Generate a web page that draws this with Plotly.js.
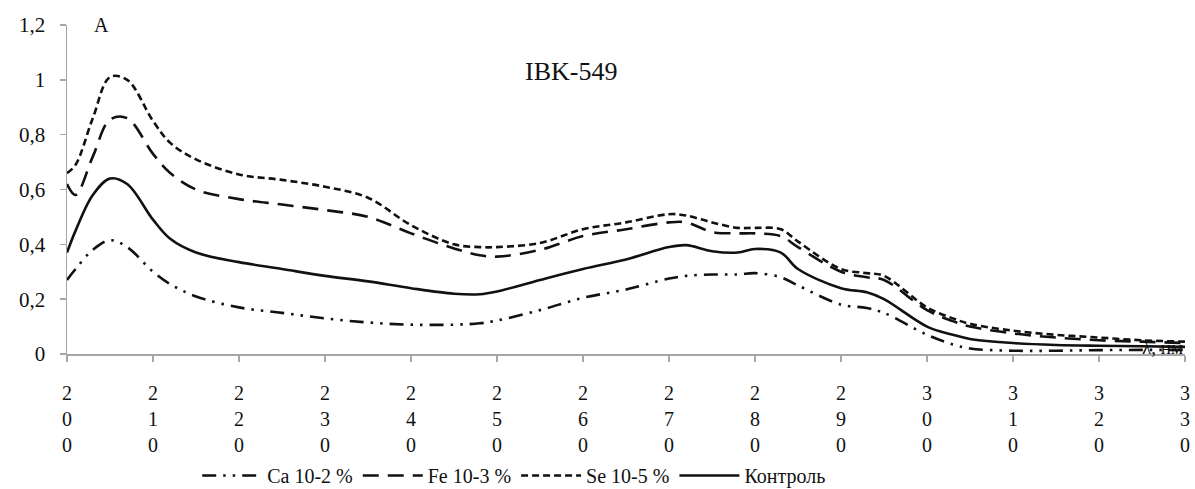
<!DOCTYPE html>
<html><head><meta charset="utf-8">
<script src="https://cdn.plot.ly/plotly-3.0.1.min.js"></script>
<style>body{margin:0;background:#fff}#chart{width:1195px;height:489px}</style>
</head><body><div id="chart"></div>
<script>
const wavelength = [200,201,203,205,207,210,212,215,220,225,230,235,240,245,248,250,255,260,265,270,272,275,278,280,283,285,290,293,295,300,303,305,310,315,320,325,330];
const ca  = [0.27,0.31,0.38,0.415,0.39,0.30,0.255,0.21,0.17,0.15,0.13,0.115,0.107,0.107,0.112,0.122,0.16,0.205,0.235,0.275,0.285,0.29,0.29,0.295,0.28,0.25,0.18,0.168,0.15,0.07,0.035,0.02,0.012,0.012,0.014,0.015,0.015];
const fe  = [0.62,0.58,0.72,0.855,0.86,0.73,0.66,0.60,0.565,0.545,0.525,0.50,0.44,0.385,0.36,0.355,0.38,0.43,0.455,0.48,0.48,0.445,0.44,0.44,0.43,0.39,0.30,0.28,0.27,0.16,0.12,0.10,0.075,0.06,0.05,0.045,0.04];
const se  = [0.66,0.69,0.86,1.01,1.0,0.85,0.77,0.71,0.655,0.635,0.61,0.57,0.47,0.40,0.39,0.39,0.405,0.455,0.48,0.51,0.505,0.48,0.46,0.46,0.455,0.41,0.31,0.295,0.285,0.17,0.13,0.11,0.085,0.07,0.06,0.05,0.045];
const ctrl= [0.37,0.45,0.58,0.64,0.62,0.49,0.42,0.37,0.335,0.31,0.285,0.265,0.24,0.22,0.218,0.228,0.27,0.31,0.345,0.39,0.397,0.375,0.37,0.383,0.37,0.31,0.24,0.225,0.20,0.10,0.07,0.055,0.04,0.033,0.03,0.028,0.026];
const xTickVals = [200,210,220,230,240,250,260,270,280,290,300,310,320,330];
const xTickText = xTickVals.map(v => String(v).split('').join('<br>'));
const yTickVals = [0,0.2,0.4,0.6,0.8,1,1.2];
const seriesNames = ['Ca 10-2 %','Fe 10-3 %','Se 10-5 %','Контроль'];

(function(){
const lineCol = '#111111';
const SERIF = 'Times New Roman';
function tr(y, name, dash){
  return {x: wavelength, y: y, name: name, type:'scatter', mode:'lines',
    line:{color:lineCol, width:2.6, dash:dash, shape:'spline', smoothing:1.0}};
}
const data = [
  tr(ca, seriesNames[0], '14px,7px,2.5px,7px,2.5px,7px'),
  tr(fe, seriesNames[1], '16px,9px'),
  tr(se, seriesNames[2], '7px,4px'),
  tr(ctrl, seriesNames[3], 'solid')
];
const layout = {
  width:1195, height:489,
  margin:{l:67, r:10, t:25, b:135, autoexpand:false},
  separators:', ',
  showlegend:true,
  legend:{orientation:'h', x:0.40, xanchor:'center', y:-0.31, yanchor:'top', itemwidth:60,
    font:{family:SERIF, size:20, color:'#111'}, tracegroupgap:0, traceorder:'normal'},
  xaxis:{range:[200,330], tickmode:'array', tickvals:xTickVals, ticktext:xTickText,
    automargin:false, showgrid:false, zeroline:false, showline:true, linecolor:'#a6a6a6', linewidth:1.5,
    ticks:'outside', ticklen:6, tickcolor:'#a6a6a6', tickwidth:1.5, ticklabelstandoff:14,
    tickfont:{family:SERIF, size:20, color:'#111'}, fixedrange:true},
  yaxis:{range:[0,1.2], tickmode:'array', tickvals:yTickVals, automargin:false,
    showgrid:false, zeroline:false, showline:true, linecolor:'#a6a6a6', linewidth:1.5,
    ticks:'outside', ticklen:6, tickcolor:'#a6a6a6', tickwidth:1.5, ticklabelstandoff:10,
    tickfont:{family:SERIF, size:21, color:'#111'}, fixedrange:true},
  annotations:[
    {text:'A', xref:'paper', yref:'paper', x:0.022, y:1.0, xanchor:'left', yanchor:'middle', showarrow:false, font:{family:SERIF, size:20, color:'#111'}},
    {text:'IBK-549', xref:'paper', yref:'paper', x:0.451, y:0.86, xanchor:'center', yanchor:'middle', showarrow:false, font:{family:SERIF, size:26, color:'#111'}},
    {text:'λ, нм', xref:'paper', yref:'paper', x:1.0, y:0.02, xanchor:'right', yanchor:'middle', showarrow:false, font:{family:SERIF, size:19, color:'#111'}}
  ]
};
Plotly.newPlot('chart', data, layout, {displayModeBar:false, staticPlot:true});
})();
</script></body></html>
